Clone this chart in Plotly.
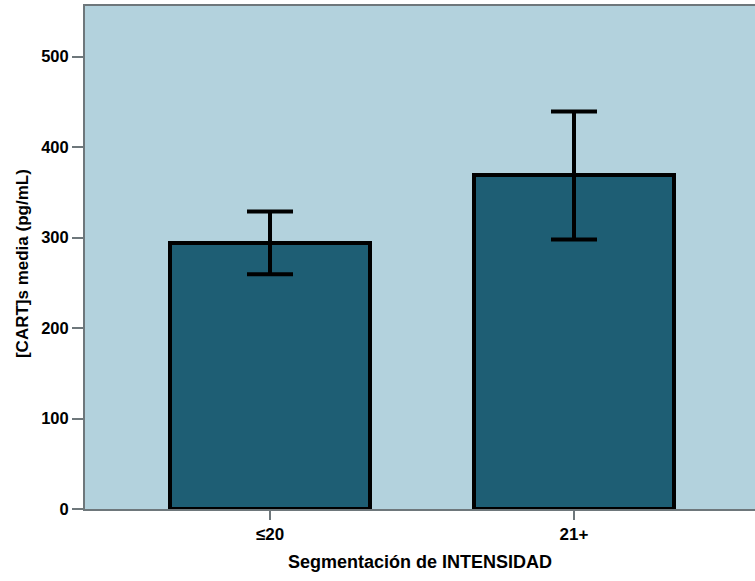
import plotly.graph_objects as go

# Mean CART concentration by intensity segment, with 95% CI bounds
categories = ["≤20", "21+"]
means = [293.5, 368.7]
ci_upper = [328.9, 439.5]
ci_lower = [259.6, 297.9]
y_ticks = [0, 100, 200, 300, 400, 500]

err_plus = [u - m for u, m in zip(ci_upper, means)]
err_minus = [m - l for m, l in zip(means, ci_lower)]

BG = "#B3D2DD"
BAR = "#1E5E74"
AXIS = "#6E777B"
FONT = "Liberation Sans, Arial, sans-serif"

fig = go.Figure(
    go.Bar(
        x=[0, 1],
        y=means,
        width=0.655,
        marker=dict(color=BAR, line=dict(color="black", width=4)),
        error_y=dict(
            type="data",
            symmetric=False,
            array=err_plus,
            arrayminus=err_minus,
            color="black",
            thickness=4,
            width=23,
        ),
    )
)

fig.update_layout(
    width=755,
    height=581,
    margin=dict(l=85, r=0, t=6, b=72),
    paper_bgcolor="white",
    plot_bgcolor=BG,
    showlegend=False,
    font=dict(family=FONT, color="black"),
    bargap=0,
)

fig.update_xaxes(
    range=[-0.6086, 1.5954],
    tickmode="array",
    tickvals=[0, 1],
    ticktext=categories,
    ticks="outside",
    ticklen=9,
    tickwidth=1.5,
    tickcolor=AXIS,
    showline=True,
    linecolor=AXIS,
    linewidth=2,
    mirror=True,
    showgrid=False,
    zeroline=False,
    tickfont=dict(size=17, family=FONT, weight="bold"),
    title=dict(
        text="<b>Segmentación de INTENSIDAD</b>",
        font=dict(size=18, family=FONT),
        standoff=12,
    ),
)

fig.update_yaxes(
    range=[0, 556],
    tickmode="array",
    tickvals=y_ticks,
    ticktext=[str(v) for v in y_ticks],
    ticks="outside",
    ticklen=11,
    tickwidth=1.5,
    tickcolor=AXIS,
    showline=True,
    linecolor=AXIS,
    linewidth=2,
    showgrid=False,
    zeroline=False,
    tickfont=dict(size=16.5, family=FONT, weight="bold"),
)

# Y-axis title placed as a rotated annotation
fig.add_annotation(
    text="<b>[CART]s media (pg/mL)</b>",
    xref="paper",
    yref="paper",
    x=-0.094,
    y=0.487,
    xanchor="center",
    yanchor="middle",
    textangle=-90,
    showarrow=False,
    font=dict(size=17, family=FONT, color="black"),
)

fig.write_html("out.html")
